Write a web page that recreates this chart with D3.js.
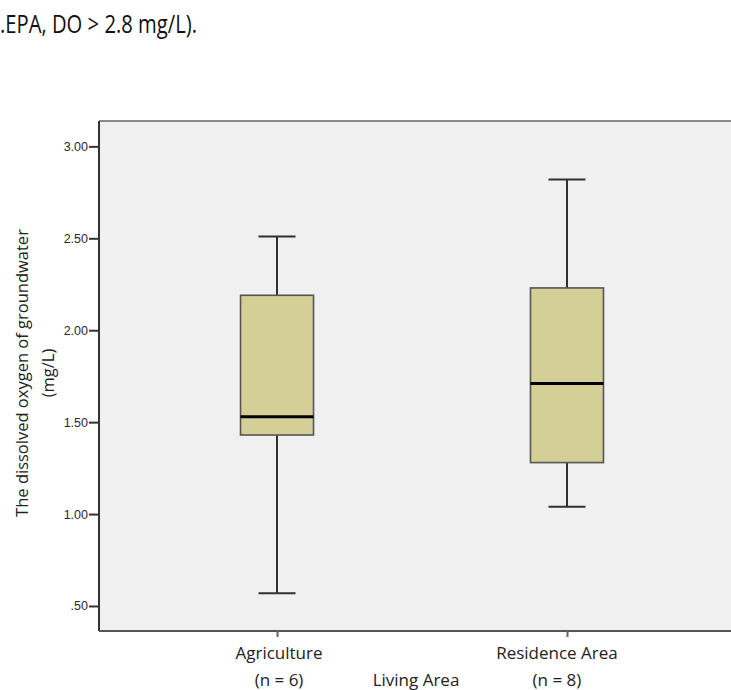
<!DOCTYPE html>
<html>
<head>
<meta charset="utf-8">
<script src="https://cdn.jsdelivr.net/npm/d3@7/dist/d3.min.js"></script>
<style>
  html, body { margin: 0; padding: 0; background: #fff; }
  svg { display: block; }
</style>
</head>
<body>
<svg id="chart" width="731" height="690"></svg>
<script>
// Dissolved oxygen of groundwater by living area (box-and-whisker summary)
const categories = ["Agriculture", "Residence Area"];
const counts = [6, 8];
const minValues = [0.57, 1.04];
const q1Values = [1.43, 1.28];
const medianValues = [1.53, 1.71];
const q3Values = [2.19, 2.23];
const maxValues = [2.51, 2.82];
const yTickValues = [0.5, 1.0, 1.5, 2.0, 2.5, 3.0];

const svg = d3.select("#chart");
const W = 731, H = 690;
const plot = { left: 99, right: 745, top: 121, bottom: 631 };

const x = d3.scalePoint()
  .domain(categories)
  .range([plot.left, plot.right])
  .padding(0.614);

const y = d3.scaleLinear()
  .domain([0.364, 3.138])
  .range([plot.bottom, plot.top]);

// Heading text running in from the page above the figure
svg.append("text")
  .attr("x", 0)
  .attr("y", 33)
  .attr("font-family", "Open Sans, sans-serif")
  .attr("font-size", 26)
  .attr("fill", "#111")
  .attr("textLength", 197)
  .attr("lengthAdjust", "spacingAndGlyphs")
  .text(".EPA, DO > 2.8 mg/L).");

// Plot background
svg.append("rect")
  .attr("x", plot.left)
  .attr("y", plot.top)
  .attr("width", W - plot.left + 5)
  .attr("height", plot.bottom - plot.top)
  .attr("fill", "#f0f0f0");

// Top frame line
svg.append("line")
  .attr("x1", plot.left).attr("x2", W + 5)
  .attr("y1", plot.top).attr("y2", plot.top)
  .attr("stroke", "#8a8a8a").attr("stroke-width", 2);

// Boxes
const rows = categories.map((c, i) => ({
  cat: c, min: minValues[i], q1: q1Values[i], med: medianValues[i], q3: q3Values[i], max: maxValues[i]
}));
const boxW = 73, capW = 37;
const g = svg.append("g");
rows.forEach(d => {
  const cx = x(d.cat);
  const wg = g.append("g");
  // whiskers
  wg.append("line").attr("x1", cx).attr("x2", cx).attr("y1", y(d.max)).attr("y2", y(d.q3))
    .attr("stroke", "#303030").attr("stroke-width", 2);
  wg.append("line").attr("x1", cx).attr("x2", cx).attr("y1", y(d.q1)).attr("y2", y(d.min))
    .attr("stroke", "#303030").attr("stroke-width", 2);
  wg.append("line").attr("x1", cx - capW / 2).attr("x2", cx + capW / 2).attr("y1", y(d.max)).attr("y2", y(d.max))
    .attr("stroke", "#303030").attr("stroke-width", 2);
  wg.append("line").attr("x1", cx - capW / 2).attr("x2", cx + capW / 2).attr("y1", y(d.min)).attr("y2", y(d.min))
    .attr("stroke", "#303030").attr("stroke-width", 2);
  // box
  wg.append("rect")
    .attr("x", cx - boxW / 2).attr("y", y(d.q3))
    .attr("width", boxW).attr("height", y(d.q1) - y(d.q3))
    .attr("fill", "#d4cf97").attr("stroke", "#555").attr("stroke-width", 1.6);
  // median
  wg.append("line").attr("x1", cx - boxW / 2).attr("x2", cx + boxW / 2).attr("y1", y(d.med)).attr("y2", y(d.med))
    .attr("stroke", "#000").attr("stroke-width", 3);
});

// Y axis
const yAxis = d3.axisLeft(y)
  .tickValues(yTickValues)
  .tickSize(10)
  .tickPadding(1)
  .tickFormat(v => d3.format(".2f")(v).replace(/^0\./, "."));
const ya = svg.append("g").attr("transform", `translate(${plot.left},0)`).call(yAxis);
ya.select(".domain").attr("stroke", "#333").attr("stroke-width", 2)
  .attr("d", `M0,${plot.top}V${plot.bottom}`);
ya.selectAll(".tick line").attr("stroke", "#333").attr("stroke-width", 2);
ya.selectAll(".tick text")
  .attr("font-family", "Liberation Sans, Arial, sans-serif")
  .attr("font-size", 12.5)
  .attr("fill", "#2a2a2a");

// X axis
const xAxis = d3.axisBottom(x).tickSize(6).tickFormat("");
const xa = svg.append("g").attr("transform", `translate(0,${plot.bottom})`).call(xAxis);
xa.select(".domain").attr("stroke", "#555").attr("stroke-width", 2)
  .attr("d", `M${plot.left},0H${W + 5}`);
xa.selectAll(".tick line").attr("stroke", "#666").attr("stroke-width", 2);

// Category labels and counts
const labelFont = "Open Sans, sans-serif";
categories.forEach((c, i) => {
  svg.append("text")
    .attr("x", x(c) + (i === 1 ? -10 : 2))
    .attr("y", 659)
    .attr("text-anchor", "middle")
    .attr("font-family", labelFont)
    .attr("font-size", 17)
    .attr("fill", "#222")
    .text(c);
  svg.append("text")
    .attr("x", x(c) + (i === 1 ? -10 : 2))
    .attr("y", 686)
    .attr("text-anchor", "middle")
    .attr("font-family", labelFont)
    .attr("font-size", 17)
    .attr("fill", "#222")
    .text(`(n = ${counts[i]})`);
});
svg.append("text")
  .attr("x", 416)
  .attr("y", 686)
  .attr("text-anchor", "middle")
  .attr("font-family", labelFont)
  .attr("font-size", 17)
  .attr("fill", "#222")
  .text("Living Area");

// Y axis title (two lines)
const yMid = (plot.top + plot.bottom) / 2 - 3;
const yt = svg.append("text")
  .attr("transform", `translate(28,${yMid}) rotate(-90)`)
  .attr("text-anchor", "middle")
  .attr("font-family", labelFont)
  .attr("font-size", 16.5)
  .attr("fill", "#222");
yt.append("tspan").attr("x", 0).attr("dy", 0).text("The dissolved oxygen of groundwater");
yt.append("tspan").attr("x", 0).attr("dy", 26).text("(mg/L)");
</script>
</body>
</html>
